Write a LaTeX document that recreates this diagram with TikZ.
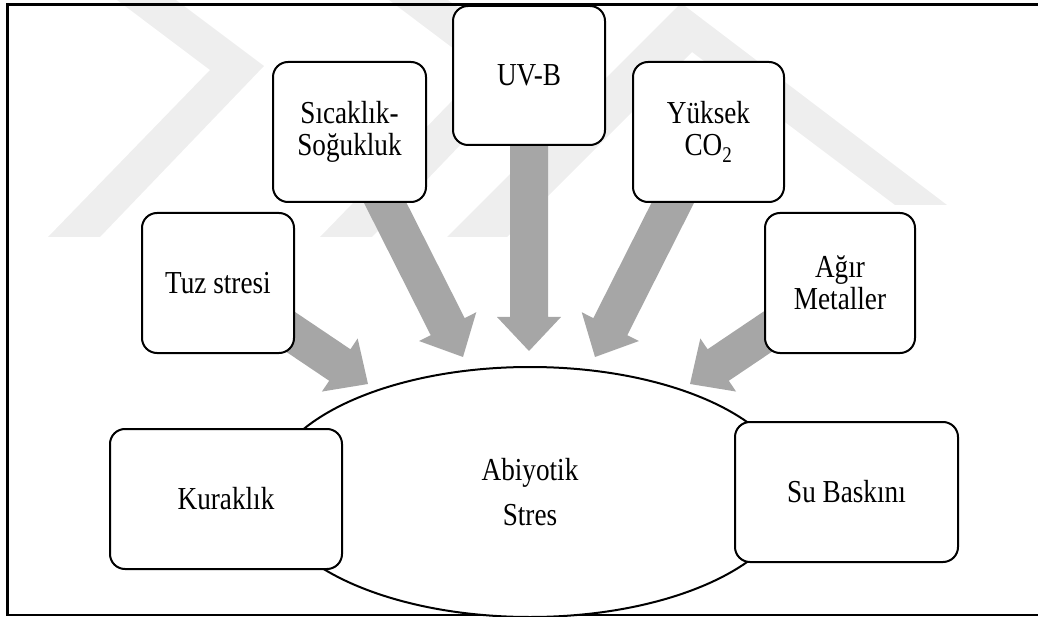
\documentclass[tikz,border=0pt]{standalone}
\usepackage{fontspec}
\setmainfont{Liberation Serif}[FakeStretch=0.85]
\usetikzlibrary{calc,shapes.geometric,backgrounds}

\definecolor{arrowgray}{RGB}{166,166,166}
\definecolor{markgray}{RGB}{238,238,238}

% block arrow: shaft from #1 to a head whose tip is #2
\newcommand{\blockarrow}[2]{%
  \coordinate (ba-base) at ($(#2)!34pt!(#1)$);
  \fill[arrowgray]
    ($(#1)!19pt!90:(#2)$) -- ($(ba-base)!19pt!-90:(#1)$) -- ($(ba-base)!32pt!-90:(#1)$)
    -- (#2)
    -- ($(ba-base)!32pt!90:(#1)$) -- ($(ba-base)!19pt!90:(#1)$) -- ($(#1)!19pt!-90:(#2)$)
    -- cycle;}

\begin{document}
\begin{tikzpicture}[x=1pt,y=-1pt,
  box/.style={draw=black, line width=2pt, fill=white, rounded corners=15pt,
    inner sep=0pt, align=center, font={\fontsize{32pt}{32pt}\selectfont}},
  centre/.style={draw=black, line width=2pt, fill=white, ellipse, inner sep=0pt,
    align=center, font={\fontsize{32pt}{45pt}\selectfont}}]

\useasboundingbox (0,0) rectangle (1038,617);

% central ellipse
\node[centre, minimum width=524pt, minimum height=250pt] (stres) at (530,492) {Abiyotik\\Stres};

% stress factors
\node[box, minimum width=152pt, minimum height=139pt] (uvb)  at (529,75.5) {UV-B};
\node[box, minimum width=153pt, minimum height=140pt] (sic)  at (349.5,132) {Sıcaklık-\\Soğukluk};
\node[box, minimum width=151pt, minimum height=140pt] (co2)  at (708.5,132) {Yüksek\\CO\textsubscript{2}};
\node[box, minimum width=152pt, minimum height=140pt] (tuz)  at (218,283) {Tuz stresi};
\node[box, minimum width=150pt, minimum height=140pt] (agir) at (840,283) {Ağır\\Metaller};
\node[box, minimum width=232pt, minimum height=140pt] (kur)  at (226,499) {Kuraklık};
\node[box, minimum width=223pt, minimum height=140pt] (su)   at (846.5,492) {Su Baskını};

% arrow tips next to the ellipse
\coordinate (t-tuz)  at (368,384);
\coordinate (t-sic)  at (463,357);
\coordinate (t-uvb)  at (529,351);
\coordinate (t-co2)  at (595,357);
\coordinate (t-agir) at (690,384);

\begin{pgfonlayer}{background}
  % faint logo in the background
  \fill[markgray] (117,0) -- (176,0) -- (264,66) -- (100,237) -- (48,237) -- (210,70) -- cycle;
  \fill[markgray] (389,0) -- (448,0) -- (536,66) -- (372,237) -- (320,237) -- (482,70) -- cycle;
  \fill[markgray] (447,237) -- (681,3) -- (947,205) -- (895,205) -- (692,52) -- (507,237) -- cycle;

  % outer frame
  \draw[line width=2.5pt] (1038,4.5) -- (7.5,4.5) -- (7.5,615) -- (1038,615);

  % arrows from every factor into the ellipse
  \blockarrow{tuz.center}{t-tuz}
  \blockarrow{sic.center}{t-sic}
  \blockarrow{uvb.center}{t-uvb}
  \blockarrow{co2.center}{t-co2}
  \blockarrow{agir.center}{t-agir}
\end{pgfonlayer}
\end{tikzpicture}
\end{document}
